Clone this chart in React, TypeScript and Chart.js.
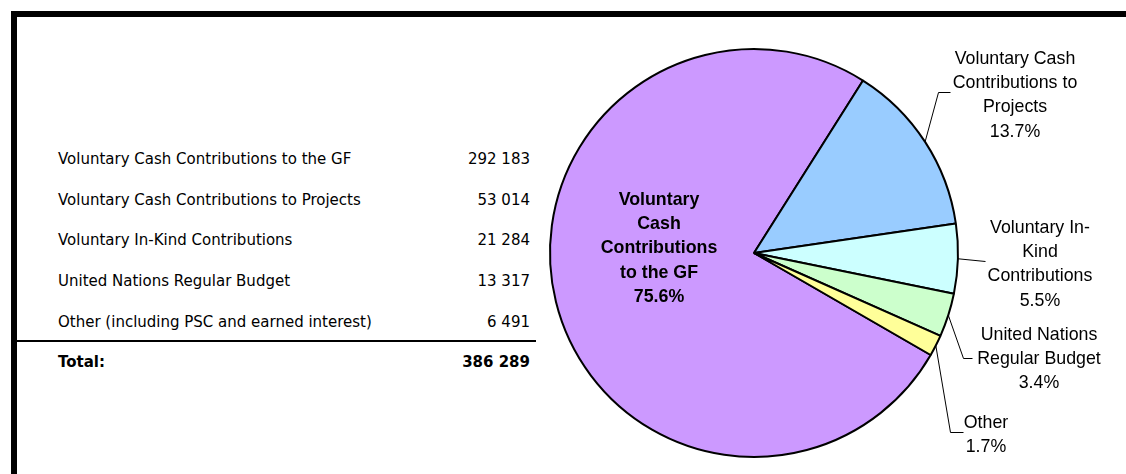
import React, { useEffect, useRef } from "react";
import { Chart, registerables } from "chart.js";

Chart.register(...registerables);

const categories = [
  "Voluntary Cash Contributions to the GF",
  "Voluntary Cash Contributions to Projects",
  "Voluntary In-Kind Contributions",
  "United Nations Regular Budget",
  "Other (including PSC and earned interest)",
];
const amounts = [292183, 53014, 21284, 13317, 6491];
const pieLabelLines = [
  ["Voluntary", "Cash", "Contributions", "to the GF"],
  ["Voluntary Cash", "Contributions to", "Projects"],
  ["Voluntary In-", "Kind", "Contributions"],
  ["United Nations", "Regular Budget"],
  ["Other"],
];
const sliceColors = ["#CC99FF", "#99CCFF", "#CCFFFF", "#CCFFCC", "#FFFF99"];
const totalLabel = "Total:";

// layout of the pie labels (positions, not data)
const labelLayout = [
  { x: 659, y: 200, bold: true, leader: null as null | number[][] },
  { x: 1015, y: 59, bold: false, leader: [[938, 92], [950, 92]] },
  { x: 1040, y: 228, bold: false, leader: [[985, 261]] },
  { x: 1039, y: 335, bold: false, leader: [[963, 358], [972, 358]] },
  { x: 986, y: 423, bold: false, leader: [[950, 432], [963, 432]] },
];
const LINE_H = 24.3;

const fmt = (n: number) => String(n).replace(/\B(?=(\d{3})+(?!\d))/g, " ");
const total = amounts.reduce((a, b) => a + b, 0);

const labelPlugin = {
  id: "pieLabels",
  afterDraw(chart: any) {
    const ctx = chart.ctx;
    const meta = chart.getDatasetMeta(0);
    const data = chart.data.datasets[0].data as number[];
    const sum = data.reduce((a, b) => a + b, 0);
    ctx.save();
    meta.data.forEach((arc: any, i: number) => {
      const lay = labelLayout[i];
      const p = arc.getProps(["x", "y", "startAngle", "endAngle", "outerRadius"], true);
      if (lay.leader) {
        const mid = (p.startAngle + p.endAngle) / 2;
        const sx = p.x + Math.cos(mid) * p.outerRadius;
        const sy = p.y + Math.sin(mid) * p.outerRadius;
        ctx.beginPath();
        ctx.strokeStyle = "#000";
        ctx.lineWidth = 1;
        ctx.moveTo(sx, sy);
        lay.leader.forEach((pt) => ctx.lineTo(pt[0] + 0.5, pt[1] + 0.5));
        ctx.stroke();
      }
      const lines = [...pieLabelLines[i], ((data[i] / sum) * 100).toFixed(1) + "%"];
      ctx.fillStyle = "#000";
      ctx.textAlign = "center";
      ctx.textBaseline = "middle";
      ctx.font = (lay.bold ? "bold " : "") + "17.8px 'Liberation Sans', Arial, sans-serif";
      lines.forEach((t, k) => {
        ctx.fillText(t, lay.x, lay.y + k * LINE_H);
      });
    });
    ctx.restore();
  },
};

const rowCenters = [159, 200, 240, 281, 322];
const totalCenter = 362;

export default function App() {
  const canvasRef = useRef<HTMLCanvasElement>(null);

  useEffect(() => {
    if (!canvasRef.current) return;
    const chart = new Chart(canvasRef.current, {
      type: "pie",
      data: {
        labels: categories,
        datasets: [
          {
            data: amounts,
            backgroundColor: sliceColors,
            borderColor: "#000",
            borderWidth: 2,
          },
        ],
      },
      options: {
        animation: false,
        responsive: false,
        rotation: 120,
        radius: 204,
        layout: { padding: { left: 544, right: 162, top: 43, bottom: 11 } },
        plugins: {
          legend: { display: false },
          tooltip: { enabled: false },
        },
      },
      plugins: [labelPlugin],
    });
    return () => chart.destroy();
  }, []);

  const textStyle: React.CSSProperties = {
    position: "absolute",
    fontFamily: "'DejaVu Sans', Verdana, sans-serif",
    fontSize: 15,
    lineHeight: "20px",
    color: "#000",
    whiteSpace: "nowrap",
  };

  return (
    <div style={{ position: "absolute", left: 0, top: 0, width: 1126, height: 474, background: "#fff", overflow: "hidden" }}>
      <div
        style={{
          position: "absolute",
          left: 11,
          top: 11,
          width: 1200,
          height: 600,
          borderLeft: "6px solid #000",
          borderTop: "6px solid #000",
        }}
      />
      {categories.map((c, i) => (
        <React.Fragment key={c}>
          <div style={{ ...textStyle, left: 58, top: rowCenters[i] - 10 }}>{c}</div>
          <div style={{ ...textStyle, right: 1126 - 530, top: rowCenters[i] - 10, textAlign: "right" }}>
            {fmt(amounts[i])}
          </div>
        </React.Fragment>
      ))}
      <div style={{ position: "absolute", left: 17, top: 340, width: 519, height: 1.5, background: "#000" }} />
      <div style={{ ...textStyle, left: 58, top: totalCenter - 10, fontWeight: "bold" }}>{totalLabel}</div>
      <div style={{ ...textStyle, right: 1126 - 530, top: totalCenter - 10, fontWeight: "bold", textAlign: "right" }}>
        {fmt(total)}
      </div>
      <canvas ref={canvasRef} width={1126} height={474} style={{ position: "absolute", left: 0, top: 0 }} />
    </div>
  );
}
